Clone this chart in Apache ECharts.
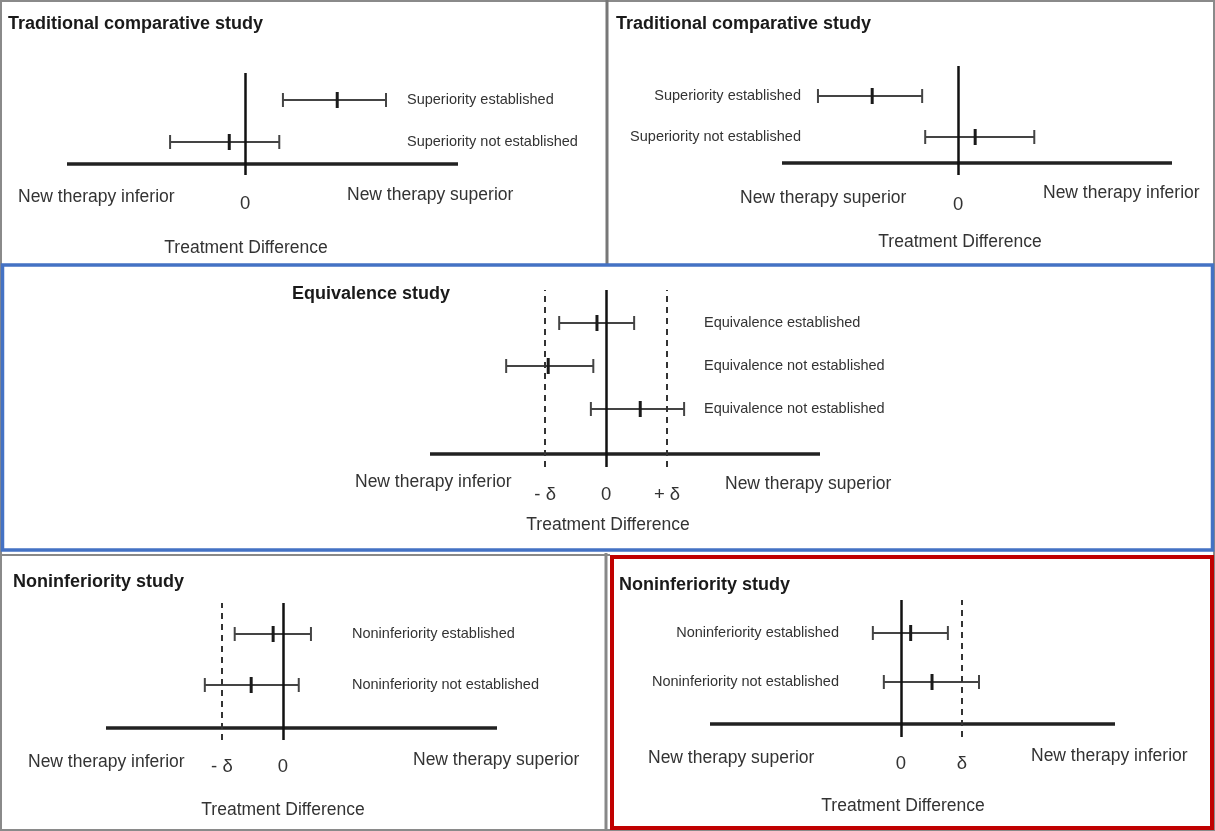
<!DOCTYPE html>
<html><head><meta charset="utf-8">
<script src="https://cdn.jsdelivr.net/npm/echarts@6/dist/echarts.min.js"></script>
<style>html,body{margin:0;padding:0;background:#fff}#c{width:1215px;height:831px}</style>
</head><body><div id="c"></div>
<script>
// ---- Data: treatment differences (confidence intervals), in units of the margin δ ----
// Row 1 is the lower interval in each panel, row 2 (and 3) above it.
const p1Rows  = ['Superiority not established', 'Superiority established'];
const p1Lower = [-1.23, 0.62];
const p1Point = [-0.26, 1.51];
const p1Upper = [0.56, 2.31];

const p2Rows  = ['Superiority not established', 'Superiority established'];
const p2Lower = [-0.54, -2.30];
const p2Point = [0.28, -1.41];
const p2Upper = [1.25, -0.59];

const p3Rows  = ['Equivalence not established', 'Equivalence not established', 'Equivalence established'];
const p3Lower = [-0.25, -1.64, -0.77];
const p3Point = [0.56, -0.95, -0.15];
const p3Upper = [1.28, -0.21, 0.46];

const p4Rows  = ['Noninferiority not established', 'Noninferiority established'];
const p4Lower = [-1.28, -0.79];
const p4Point = [-0.52, -0.16];
const p4Upper = [0.26, 0.46];

const p5Rows  = ['Noninferiority not established', 'Noninferiority established'];
const p5Lower = [-0.28, -0.46];
const p5Point = [0.51, 0.16];
const p5Upper = [1.28, 0.77];

// Tick values / labels and margin (δ) reference lines
const p1Ticks = [0],        p1TickLabels = ['0'];
const p2Ticks = [0],        p2TickLabels = ['0'];
const p3Ticks = [-1, 0, 1], p3TickLabels = ['- δ', '0', '+ δ'];
const p4Ticks = [-1, 0],    p4TickLabels = ['- δ', '0'];
const p5Ticks = [0, 1],     p5TickLabels = ['0', 'δ'];
const p3Margins = [-1, 1];
const p4Margins = [-1];
const p5Margins = [1];

const titles = ['Traditional comparative study', 'Traditional comparative study', 'Equivalence study', 'Noninferiority study', 'Noninferiority study'];
const leftNotes  = ['New therapy inferior', 'New therapy superior', 'New therapy inferior', 'New therapy inferior', 'New therapy superior'];
const rightNotes = ['New therapy superior', 'New therapy inferior', 'New therapy superior', 'New therapy superior', 'New therapy inferior'];
const axisTitle = 'Treatment Difference';

// ---- Layout ----
const FONT = '"Liberation Sans", Arial, sans-serif';
const panels = [
  {rows:p1Rows, lo:p1Lower, pt:p1Point, hi:p1Upper, ticks:p1Ticks, tl:p1TickLabels, margins:[],
   grid:{left:67, top:73, width:391, height:102}, x:[-2.92, 3.49], y:[0.214, 2.643], baseY:0.476,
   side:'right', off:-51, tickMargin:19,
   title:[8, 24], lnote:[18, 197], rnote:[347, 195], atitle:[246, 248]},
  {rows:p2Rows, lo:p2Lower, pt:p2Point, hi:p2Upper, ticks:p2Ticks, tl:p2TickLabels, margins:[],
   grid:{left:782, top:66, width:390, height:109}, x:[-2.89, 3.51], y:[0.073, 2.732], baseY:0.366,
   side:'left', off:-19, tickMargin:20,
   title:[616, 24], lnote:[740, 198], rnote:[1043, 193], atitle:[960, 242]},
  {rows:p3Rows, lo:p3Lower, pt:p3Point, hi:p3Upper, ticks:p3Ticks, tl:p3TickLabels, margins:p3Margins,
   grid:{left:430, top:290, width:390, height:177}, x:[-2.89, 3.51], y:[-0.349, 3.767], baseY:-0.047,
   side:'right', off:-116, tickMargin:18,
   title:[292, 294], lnote:[355, 482], rnote:[725, 484], atitle:[608, 525]},
  {rows:p4Rows, lo:p4Lower, pt:p4Point, hi:p4Upper, ticks:p4Ticks, tl:p4TickLabels, margins:p4Margins,
   grid:{left:106, top:603, width:391, height:137}, x:[-2.90, 3.51], y:[-0.078, 2.608], baseY:0.157,
   side:'right', off:-145, tickMargin:17,
   title:[13, 582], lnote:[28, 762], rnote:[413, 760], atitle:[283, 810]},
  {rows:p5Rows, lo:p5Lower, pt:p5Point, hi:p5Upper, ticks:p5Ticks, tl:p5TickLabels, margins:p5Margins,
   grid:{left:710, top:600, width:405, height:137}, x:[-3.13, 3.51], y:[-0.122, 2.673], baseY:0.143,
   side:'left', off:-129, tickMargin:17,
   title:[619, 585], lnote:[648, 758], rnote:[1031, 756], atitle:[903, 806]}
];

function renderBar(params, api) {
  const row = api.value(3);
  const lo = api.coord([api.value(0), row]);
  const pt = api.coord([api.value(1), row]);
  const hi = api.coord([api.value(2), row]);
  const y = lo[1], cap = 7, tk = 8;
  const s = {stroke:'#444', lineWidth:2};
  return {type:'group', children:[
    {type:'line', shape:{x1:lo[0], y1:y, x2:hi[0], y2:y}, style:s},
    {type:'line', shape:{x1:lo[0], y1:y-cap, x2:lo[0], y2:y+cap}, style:s},
    {type:'line', shape:{x1:hi[0], y1:y-cap, x2:hi[0], y2:y+cap}, style:s},
    {type:'line', shape:{x1:pt[0], y1:y-tk, x2:pt[0], y2:y+tk}, style:{stroke:'#1a1a1a', lineWidth:3}}
  ]};
}

const grids = [], xAxes = [], yAxes = [], series = [], graphics = [];

// panel frames
graphics.push(
  {type:'rect', z:0, shape:{x:1, y:1, width:1213, height:829}, style:{fill:'none', stroke:'#8a8a8a', lineWidth:2}},
  {type:'line', z:0, shape:{x1:607, y1:0, x2:607, y2:264}, style:{stroke:'#777', lineWidth:3}},
  {type:'line', z:0, shape:{x1:0, y1:555, x2:610, y2:555}, style:{stroke:'#888', lineWidth:2}},
  {type:'line', z:0, shape:{x1:606, y1:553, x2:606, y2:831}, style:{stroke:'#888', lineWidth:3}},
  {type:'rect', z:1, shape:{x:2.5, y:265, width:1210, height:285}, style:{fill:'none', stroke:'#4472C4', lineWidth:3.5}},
  {type:'rect', z:1, shape:{x:612, y:557, width:600, height:271}, style:{fill:'none', stroke:'#C00000', lineWidth:4}}
);

panels.forEach((p, i) => {
  grids.push(Object.assign({outerBoundsMode:'none', containLabel:false}, p.grid));
  xAxes.push({
    type:'value', gridIndex:i, min:p.x[0], max:p.x[1], position:'bottom',
    axisLine:{show:false, onZero:false}, axisTick:{show:false}, splitLine:{show:false},
    axisLabel:{customValues:p.ticks, margin:p.tickMargin, fontFamily:FONT, fontSize:18.5, color:'#333',
      formatter:(v) => { const k = p.ticks.findIndex(t => Math.abs(t - v) < 1e-6); return k >= 0 ? p.tl[k] : ''; }}
  });
  yAxes.push({
    type:'value', gridIndex:i, min:p.y[0], max:p.y[1], position:p.side, offset:p.off,
    axisLine:{show:false, onZero:false}, axisTick:{show:false}, splitLine:{show:false},
    axisLabel:{customValues:p.rows.map((_, k) => k + 1), margin:0, fontFamily:FONT, fontSize:14.5, color:'#333',
      formatter:(v) => p.rows[Math.round(v) - 1] || ''}
  });
  const mlData = [
    {yAxis:p.baseY, lineStyle:{color:'#222', width:3.5, type:'solid'}},
    {xAxis:0, lineStyle:{color:'#111', width:2.5, type:'solid'}}
  ].concat(p.margins.map(m => ({xAxis:m, lineStyle:{color:'#333', width:2, type:[6, 5]}})));
  series.push({
    type:'custom', name:'panel' + (i + 1), coordinateSystem:'cartesian2d', xAxisIndex:i, yAxisIndex:i,
    clip:false, silent:true, renderItem:renderBar,
    encode:{x:[0, 1, 2], y:3},
    data:p.rows.map((_, k) => [p.lo[k], p.pt[k], p.hi[k], k + 1]),
    markLine:{silent:true, symbol:'none', animation:false, label:{show:false}, emphasis:{disabled:true}, data:mlData}
  });
  graphics.push(
    {type:'text', z:5, x:p.title[0], y:p.title[1], style:{text:titles[i], fontFamily:FONT, fontSize:18, fontWeight:'bold', fill:'#1a1a1a', align:'left', verticalAlign:'middle'}},
    {type:'text', z:5, x:p.lnote[0], y:p.lnote[1], style:{text:leftNotes[i], fontFamily:FONT, fontSize:17.5, fill:'#333', align:'left', verticalAlign:'middle'}},
    {type:'text', z:5, x:p.rnote[0], y:p.rnote[1], style:{text:rightNotes[i], fontFamily:FONT, fontSize:17.5, fill:'#333', align:'left', verticalAlign:'middle'}},
    {type:'text', z:5, x:p.atitle[0], y:p.atitle[1], style:{text:axisTitle, fontFamily:FONT, fontSize:17.5, fill:'#333', align:'center', verticalAlign:'middle'}}
  );
});

const chart = echarts.init(document.getElementById('c'), null, {renderer:'canvas'});
chart.setOption({
  backgroundColor:'#fff', animation:false,
  grid:grids, xAxis:xAxes, yAxis:yAxes, series:series, graphic:graphics
});
</script></body></html>
